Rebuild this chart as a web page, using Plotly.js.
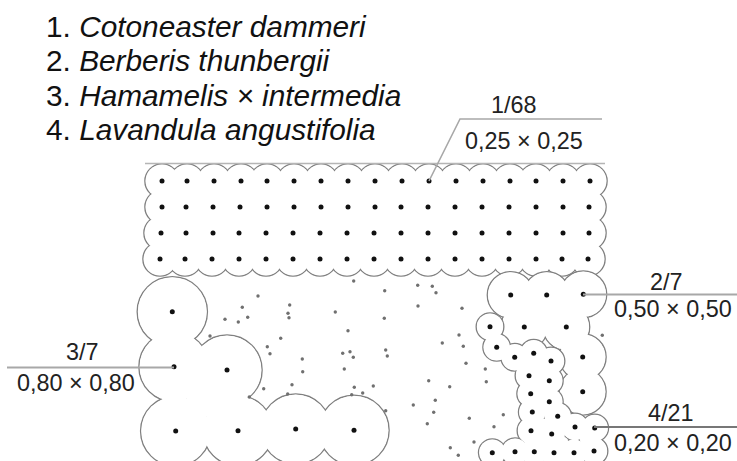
<!DOCTYPE html>
<html><head><meta charset="utf-8">
<script src="https://cdn.plot.ly/plotly-3.0.1.min.js"></script>
<style>html,body{margin:0;padding:0;background:#fff}#c{width:737px;height:461px}</style>
</head><body><div id="c"></div>
<script>
const speciesNames = ["Cotoneaster dammeri","Berberis thunbergii","Hamamelis × intermedia","Lavandula angustifolia"];
const speciesNumbers = ["1.","2.","3.","4."];
const legendX = [44,44,44,44];
const legendY = [26,60,95,129];

const cotoneasterX = [
 162,187,214,241,267,294,321,348,375,402,429,456,483,510,536,563,590,
 162,186,213,240,267,294,321,348,375,401,428,455,482,509,536,563,589,
 161,186,213,239,266,293,320,347,374,401,428,455,482,509,536,563,589,
 160,185,212,239,266,293,320,347,374,401,428,455,482,509,536,562,588];
const cotoneasterY = [
 181,181,181,181,181,181,181,181,181,181,181,181,181,181,181,181,181,
 207,207,207,207,207,207,207,207,207,207,207,207,207,207,207,207,207,
 233,233,233,233,233,233,233,233,233,233,233,233,233,233,233,233,233,
 259,259,259,259,259,259,259,259,259,259,259,259,259,259,259,259,259];
const berberisX = [510.7,546.7,583.3,524.3,566.3,582.7,582.7];
const berberisY = [295,295,294.3,327,327,357,391.7];
const hamamelisX = [172.3,174,227,175.7,238,295.7,354];
const hamamelisY = [311.7,366.7,370,431,430.7,429,430.3];
const lavandulaX = [490,496.7,514.7,533.7,551,529,549.3,530.7,549.3,532.3,557.7,531,551.7,575,594.7,492.3,515,534.3,554,574,594];
const lavandulaY = [326.7,347.3,357.3,353.3,361,375.7,380.7,393.7,401.7,412,416.3,430.7,434,427,428,452.7,451.7,451.7,452.7,452.7,451];

const speckX = [353.7,384.7,417.7,432.3,436,258,418,462,242.3,289.7,288,289,247.7,335.3,384.3,348,459,280.7,442.3,267.3,463.3,385.7,350,342.7,270,353.3,387.3,302.3,466,344.3,302.7,485.3,486.3,428.7,292,449.7,354.3,373.3,263.7,362.7,351.7,287.7,435.3,413.3,385.7,433.7,469.3,427.3,474,450.3,458.3,225,238.3,210,249.3,602.3,503.3,494];
const speckY = [281,290.7,285.3,286.3,292.7,296,306,308.3,307.3,305,313.3,317.7,317.3,312,318.3,330.7,335,338.3,343,346.7,346.3,350,351.7,353.3,353.7,357.3,356,359,363.3,369,371.7,369,381.7,380.7,384.7,386.7,387.3,386,388.7,393,394.7,394,400.3,405,410.7,412.3,418.3,423.7,442,447.7,455.3,319.3,322,336,397,335.3,414.7,426.7];

const countLabels = ["1/68","2/7","3/7","4/21"];
const countX = [514,666,82,671];
const countY = [105,282,352,413];
const spacingLabels = ["0,25 × 0,25","0,50 × 0,50","0,80 × 0,80","0,20 × 0,20"];
const spacingX = [524,673,75.5,673];
const spacingY = [141,309,383,443];

const leader1X = [429,460,602], leader1Y = [181,119,119];
const leader2X = [583,737],     leader2Y = [294.5,294.5];
const leader3X = [7,174],       leader3Y = [367.5,367.5];
const leader4X = [594,737],     leader4Y = [427,427];
const edgeX = [145,605],        edgeY = [163.5,163.5];

// groups of neighbouring plants whose canopies close over a small interior gap
const hamamelisGaps = [[1,2,3,4]];
const berberisGaps = [[1,3,4]];
const lavandulaGaps = [[3,4,5,6],[5,6,7,8],[7,8,9,10],[9,10,11,12],[11,12,17,18],[12,13,18,19],[13,14,19,20],[10,11,12,13]];
const cotoneasterGaps = [];
for (let r=0;r<3;r++) for (let c=0;c<16;c++) cotoneasterGaps.push([r*17+c,r*17+c+1,(r+1)*17+c,(r+1)*17+c+1]);

const OUT = '#808080', DOT = '#111';
function bed(x, y, r) {
  return [
    {x, y, type:'scatter', mode:'markers', hoverinfo:'skip',
     marker:{size:2*r, color:'#fff', opacity:1, line:{color:OUT, width:1.6}}},
    {x, y, type:'scatter', mode:'markers', hoverinfo:'skip',
     marker:{size:2*r-1, color:'#fff', opacity:1, line:{width:0}}}
  ];
}
function gaps(x, y, groups, size) {
  const mean = (a,g)=>g.reduce((s,i)=>s+a[i],0)/g.length;
  return {x:groups.map(g=>mean(x,g)), y:groups.map(g=>mean(y,g)), type:'scatter', mode:'markers', hoverinfo:'skip',
    marker:{size, color:'#fff', opacity:1, line:{width:0}}};
}
function centres(x, y) {
  return {x, y, type:'scatter', mode:'markers', hoverinfo:'skip', marker:{size:5, color:DOT, line:{width:0}}};
}
function rule(x, y, color, width) {
  return {x, y, type:'scatter', mode:'lines', hoverinfo:'skip', line:{color, width}};
}
const traces = [
  ...bed(cotoneasterX, cotoneasterY, 17),
  gaps(cotoneasterX, cotoneasterY, cotoneasterGaps, 12),
  ...bed(hamamelisX, hamamelisY, 35),
  gaps(hamamelisX, hamamelisY, hamamelisGaps, 34),
  ...bed(berberisX, berberisY, 23.3),
  gaps(berberisX, berberisY, berberisGaps, 8),
  ...bed(lavandulaX, lavandulaY, 13.7),
  gaps(lavandulaX, lavandulaY, lavandulaGaps, 9),
  {x:speckX, y:speckY, type:'scatter', mode:'markers', hoverinfo:'skip', marker:{size:3.4, color:'#707070', line:{width:0}}},
  centres(cotoneasterX, cotoneasterY), centres(berberisX, berberisY),
  centres(hamamelisX, hamamelisY), centres(lavandulaX, lavandulaY),
  rule(edgeX, edgeY, '#b5b5b5', 1.6),
  rule(leader1X, leader1Y, '#a8a8a8', 1.6),
  rule(leader2X, leader2Y, '#a8a8a8', 1.8),
  rule(leader3X, leader3Y, '#a8a8a8', 1.8),
  rule(leader4X, leader4Y, '#777', 1.8)
];
const FONT = 'Liberation Sans, Arial, sans-serif';
const ann = [];
speciesNames.forEach((n,i)=>ann.push({x:legendX[i], y:legendY[i], xref:'x', yref:'y', xanchor:'left', yanchor:'middle', showarrow:false,
  text:speciesNumbers[i]+' <i>'+n+'</i>', font:{family:FONT,size:29.8,color:'#111'}}));
countLabels.forEach((t,i)=>ann.push({x:countX[i], y:countY[i], xref:'x', yref:'y', xanchor:'center', yanchor:'middle', showarrow:false,
  text:t, font:{family:FONT,size:23.4,color:'#222'}}));
spacingLabels.forEach((t,i)=>ann.push({x:spacingX[i], y:spacingY[i], xref:'x', yref:'y', xanchor:'center', yanchor:'middle', showarrow:false,
  text:t, font:{family:FONT,size:23.4,color:'#222'}}));
const ax = {visible:false, showgrid:false, zeroline:false, fixedrange:true};
Plotly.newPlot('c', traces, {
  width:737, height:461, margin:{l:0,r:0,t:0,b:0}, showlegend:false,
  paper_bgcolor:'#fff', plot_bgcolor:'#fff',
  xaxis:{...ax, range:[0,737]}, yaxis:{...ax, range:[461,0]},
  annotations:ann
}, {displayModeBar:false, staticPlot:true});
</script></body></html>
